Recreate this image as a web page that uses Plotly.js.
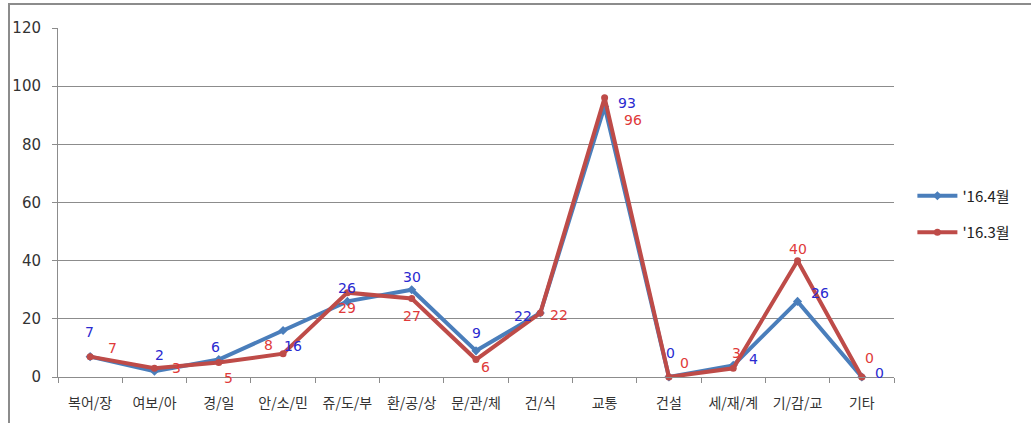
<!DOCTYPE html>
<html><head><meta charset="utf-8">
<script src="https://cdn.plot.ly/plotly-3.0.1.min.js"></script>
<style>
html,body{margin:0;padding:0;background:#fff;}
#wrap{position:relative;width:1031px;height:423px;overflow:hidden;}
#frame{position:absolute;left:8px;top:3px;width:1040px;height:440px;border-top:2px solid #8c8c8c;border-left:2px solid #8c8c8c;pointer-events:none;z-index:5;}
#chart{position:absolute;left:0;top:0;width:1031px;height:423px;}
</style></head>
<body><div id="wrap"><div id="chart"></div><div id="frame"></div></div>
<script>
const categories = ['복어/장','여보/아','경/일','안/소/민','쥬/도/부','환/공/상','문/관/체','건/식','교통','건설','세/재/계','기/감/교','기타'];
const apr16 = [7, 2, 6, 16, 26, 30, 9, 22, 93, 0, 4, 26, 0];
const mar16 = [7, 3, 5, 8, 29, 27, 6, 22, 96, 0, 3, 40, 0];
const seriesNames = ["'16.4월", "'16.3월"];
const yTicks = [0, 20, 40, 60, 80, 100, 120];

// label pixel offsets (style only): [xshift, yshift]
const aprShift = [[-1,25],[5,16],[-3,13],[10,-16],[0,13],[0,13],[0,18],[-17,-3],[22,4],[2,24],[20,6],[22,8],[18,4]];
const marShift = [[22,9],[22,0],[10,-16],[-15,9],[0,-15],[0,-18],[9,-7],[19,-2],[28,-22],[16,14],[3,15],[0,12],[8,19]];

const font = '"Noto Sans CJK KR", "Noto Sans", sans-serif';
const numFont = '"DejaVu Sans", sans-serif';

const traces = [
  {x: categories, y: apr16, name: seriesNames[0], legendgroup:'a', type:'scatter', mode:'lines+markers',
   line:{color:'#4a7ebb', width:4}, marker:{symbol:'diamond', size:7, color:'#4a7ebb'}, cliponaxis:false},
  {x: categories, y: mar16, name: seriesNames[1], legendgroup:'b', type:'scatter', mode:'lines+markers',
   line:{color:'#be4b48', width:4}, marker:{symbol:'circle', size:7, color:'#be4b48'}, cliponaxis:false}
];

const annotations = [];
categories.forEach((c, i) => {
  annotations.push({x: c, y: apr16[i], text: String(apr16[i]), showarrow:false,
    xshift: aprShift[i][0], yshift: aprShift[i][1], font:{family:numFont, size:14, color:'#2a2ad0'}});
  annotations.push({x: c, y: mar16[i], text: String(mar16[i]), showarrow:false,
    xshift: marShift[i][0], yshift: marShift[i][1], font:{family:numFont, size:14, color:'#e03a3a'}});
});

const layout = {
  width:1031, height:423,
  margin:{l:58, r:137, t:28, b:46},
  paper_bgcolor:'#fff', plot_bgcolor:'#fff',
  font:{family:font, size:13, color:'#333'},
  showlegend:true,
  legend:{x:1.022, y:0.467, xanchor:'left', yanchor:'middle', traceorder:'grouped', tracegroupgap:14,
          font:{size:15, color:'#222', family:font}, itemwidth:40},
  annotations: annotations,
  xaxis:{type:'category', showgrid:false, showline:true, linecolor:'#8c8c8c', linewidth:1,
         ticks:'outside', tickson:'boundaries', ticklen:5, tickcolor:'#8c8c8c',
         tickfont:{size:14, color:'#333', family:font}, ticklabelstandoff:13, range:[-0.5, 12.5], fixedrange:true},
  yaxis:{range:[0,120], tickvals:yTicks, showgrid:true, gridcolor:'#8c8c8c', gridwidth:1,
         showline:true, linecolor:'#8c8c8c', ticks:'outside', ticklen:5, tickcolor:'#8c8c8c',
         tickfont:{size:15, color:'#333', family:numFont}, ticklabelstandoff:8, zeroline:false, fixedrange:true}
};

Plotly.newPlot('chart', traces, layout, {displayModeBar:false, staticPlot:true});
</script></body></html>
